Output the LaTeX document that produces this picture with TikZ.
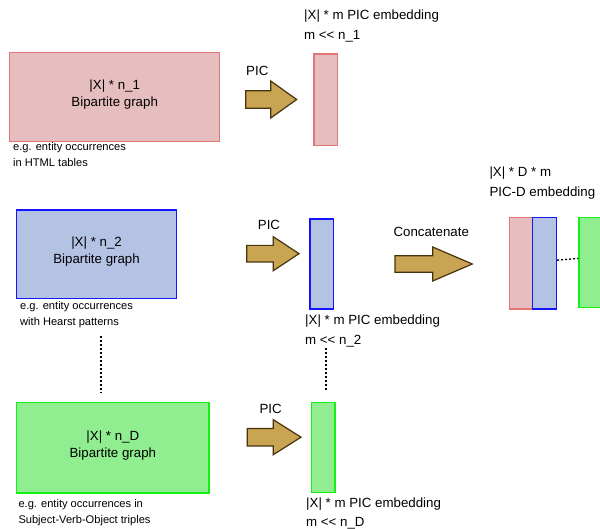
\documentclass[tikz,border=0pt]{standalone}
\usepackage{fontspec}
\setmainfont{Liberation Sans}
\definecolor{redfill}{RGB}{230,190,191}
\definecolor{redline}{RGB}{226,118,118}
\definecolor{bluefill}{RGB}{180,194,228}
\definecolor{blueline}{RGB}{20,20,255}
\definecolor{greenfill}{RGB}{144,238,144}
\definecolor{greenline}{RGB}{20,240,20}
\definecolor{arrowfill}{RGB}{201,164,82}
\definecolor{arrowline}{RGB}{70,52,14}
\tikzset{
  box/.style={draw, line width=1.4pt, inner sep=0pt, anchor=north west},
  redbox/.style={box, draw=redline, fill=redfill},
  bluebox/.style={box, draw=blueline, fill=bluefill},
  greenbox/.style={box, draw=greenline, fill=greenfill},
  maintext/.style={font=\fontsize{13.3}{17}\selectfont, align=center, anchor=base, inner sep=0pt},
  captext/.style={font=\fontsize{11.1}{16}\selectfont, align=left, anchor=base west, inner sep=0pt},
  labtext/.style={font=\fontsize{13.3}{19.5}\selectfont, align=left, anchor=base west, inner sep=0pt},
  fatarrow/.style={draw=arrowline, fill=arrowfill, line width=1.2pt, line join=miter},
  dots/.style={draw=black, line width=1.3pt, dash pattern=on 2pt off 2pt}
}
\newcommand\fatarr[6]{\draw[fatarrow] (#1,#4-#5) -- (#2,#4-#5) -- (#2,#4-#6) -- (#3,#4) -- (#2,#4+#6) -- (#2,#4+#5) -- (#1,#4+#5) -- cycle;}
\begin{document}
\begin{tikzpicture}[x=1pt,y=-1pt]
\useasboundingbox (0,0) rectangle (600,529);
\clip (0,0) rectangle (600,529);
% row 1
\node[redbox, minimum width=210pt, minimum height=89.3pt] (g1) at (9,51.7) {};
\node[maintext] (t1) at ([yshift=-9.6pt]g1.center) {|X| * n\_1\\Bipartite graph};
\node[captext] (c1) at (13,167) {e.g. entity occurrences\\in HTML tables};
\node[labtext] (p1) at (246,76) {PIC};
\fatarr{245.7}{270.7}{296.7}{99.5}{8.7}{18.5}
\node[redbox, minimum width=23.4pt, minimum height=91.7pt] (b1) at (313.3,53.3) {};
\node[labtext] (l1) at (304,39.5) {|X| * m PIC embedding\\m <{}< n\_1};
% row 2
\node[bluebox, minimum width=160.3pt, minimum height=88.4pt] (g2) at (15.7,209.3) {};
\node[maintext] (t2) at ([yshift=-9.6pt]g2.center) {|X| * n\_2\\Bipartite graph};
\node[captext] (c2) at (20,326) {e.g. entity occurrences\\with Hearst patterns};
\node[labtext] (p2) at (257.7,230) {PIC};
\fatarr{246.7}{273.3}{299}{253.7}{8.3}{17}
\node[bluebox, minimum width=23.4pt, minimum height=90pt] (b2) at (309.3,218.3) {};
\node[labtext] (l2) at (305,344.5) {|X| * m PIC embedding\\m <{}< n\_2};
% row 3
\node[greenbox, minimum width=192.3pt, minimum height=90.3pt] (g3) at (16,402) {};
\node[maintext] (t3) at ([yshift=-9.6pt]g3.center) {|X| * n\_D\\Bipartite graph};
\node[captext] (c3) at (18.3,523.5) {e.g. entity occurrences in\\Subject-Verb-Object triples};
\node[labtext] (p3) at (259.3,413.3) {PIC};
\fatarr{247.3}{273.3}{301}{437.2}{8.8}{17.5}
\node[greenbox, minimum width=23.6pt, minimum height=90pt] (b3) at (310.7,401.7) {};
\node[labtext] (l3) at (306,526.5) {|X| * m PIC embedding\\m <{}< n\_D};
% vertical dots
\coordinate (d1a) at (101,336);
\coordinate (d1b) at (101,393);
\draw[dots] (d1a) -- (d1b);
\coordinate (d2a) at (326,348.3);
\coordinate (d2b) at (326,391.7);
\draw[dots] (d2a) -- (d2b);
% concatenate
\node[labtext] (pc) at (393.3,236.7) {Concatenate};
\fatarr{395}{432.7}{472.3}{264}{8.3}{17}
\node[redbox, minimum width=23.3pt, minimum height=91.6pt] (cr) at (508.7,216.7) {};
\node[bluebox, minimum width=23.7pt, minimum height=91.6pt] (cb) at (532,216.7) {};
\node[greenbox, minimum width=24pt, minimum height=90pt] (cg) at (578.3,216.7) {};
\draw[dots] ([yshift=3pt]cb.east) -- ([yshift=4pt]cg.west);
\node[labtext] (lc) at (489.3,196.5) {|X| * D * m\\PIC-D embedding};
\end{tikzpicture}
\end{document}
